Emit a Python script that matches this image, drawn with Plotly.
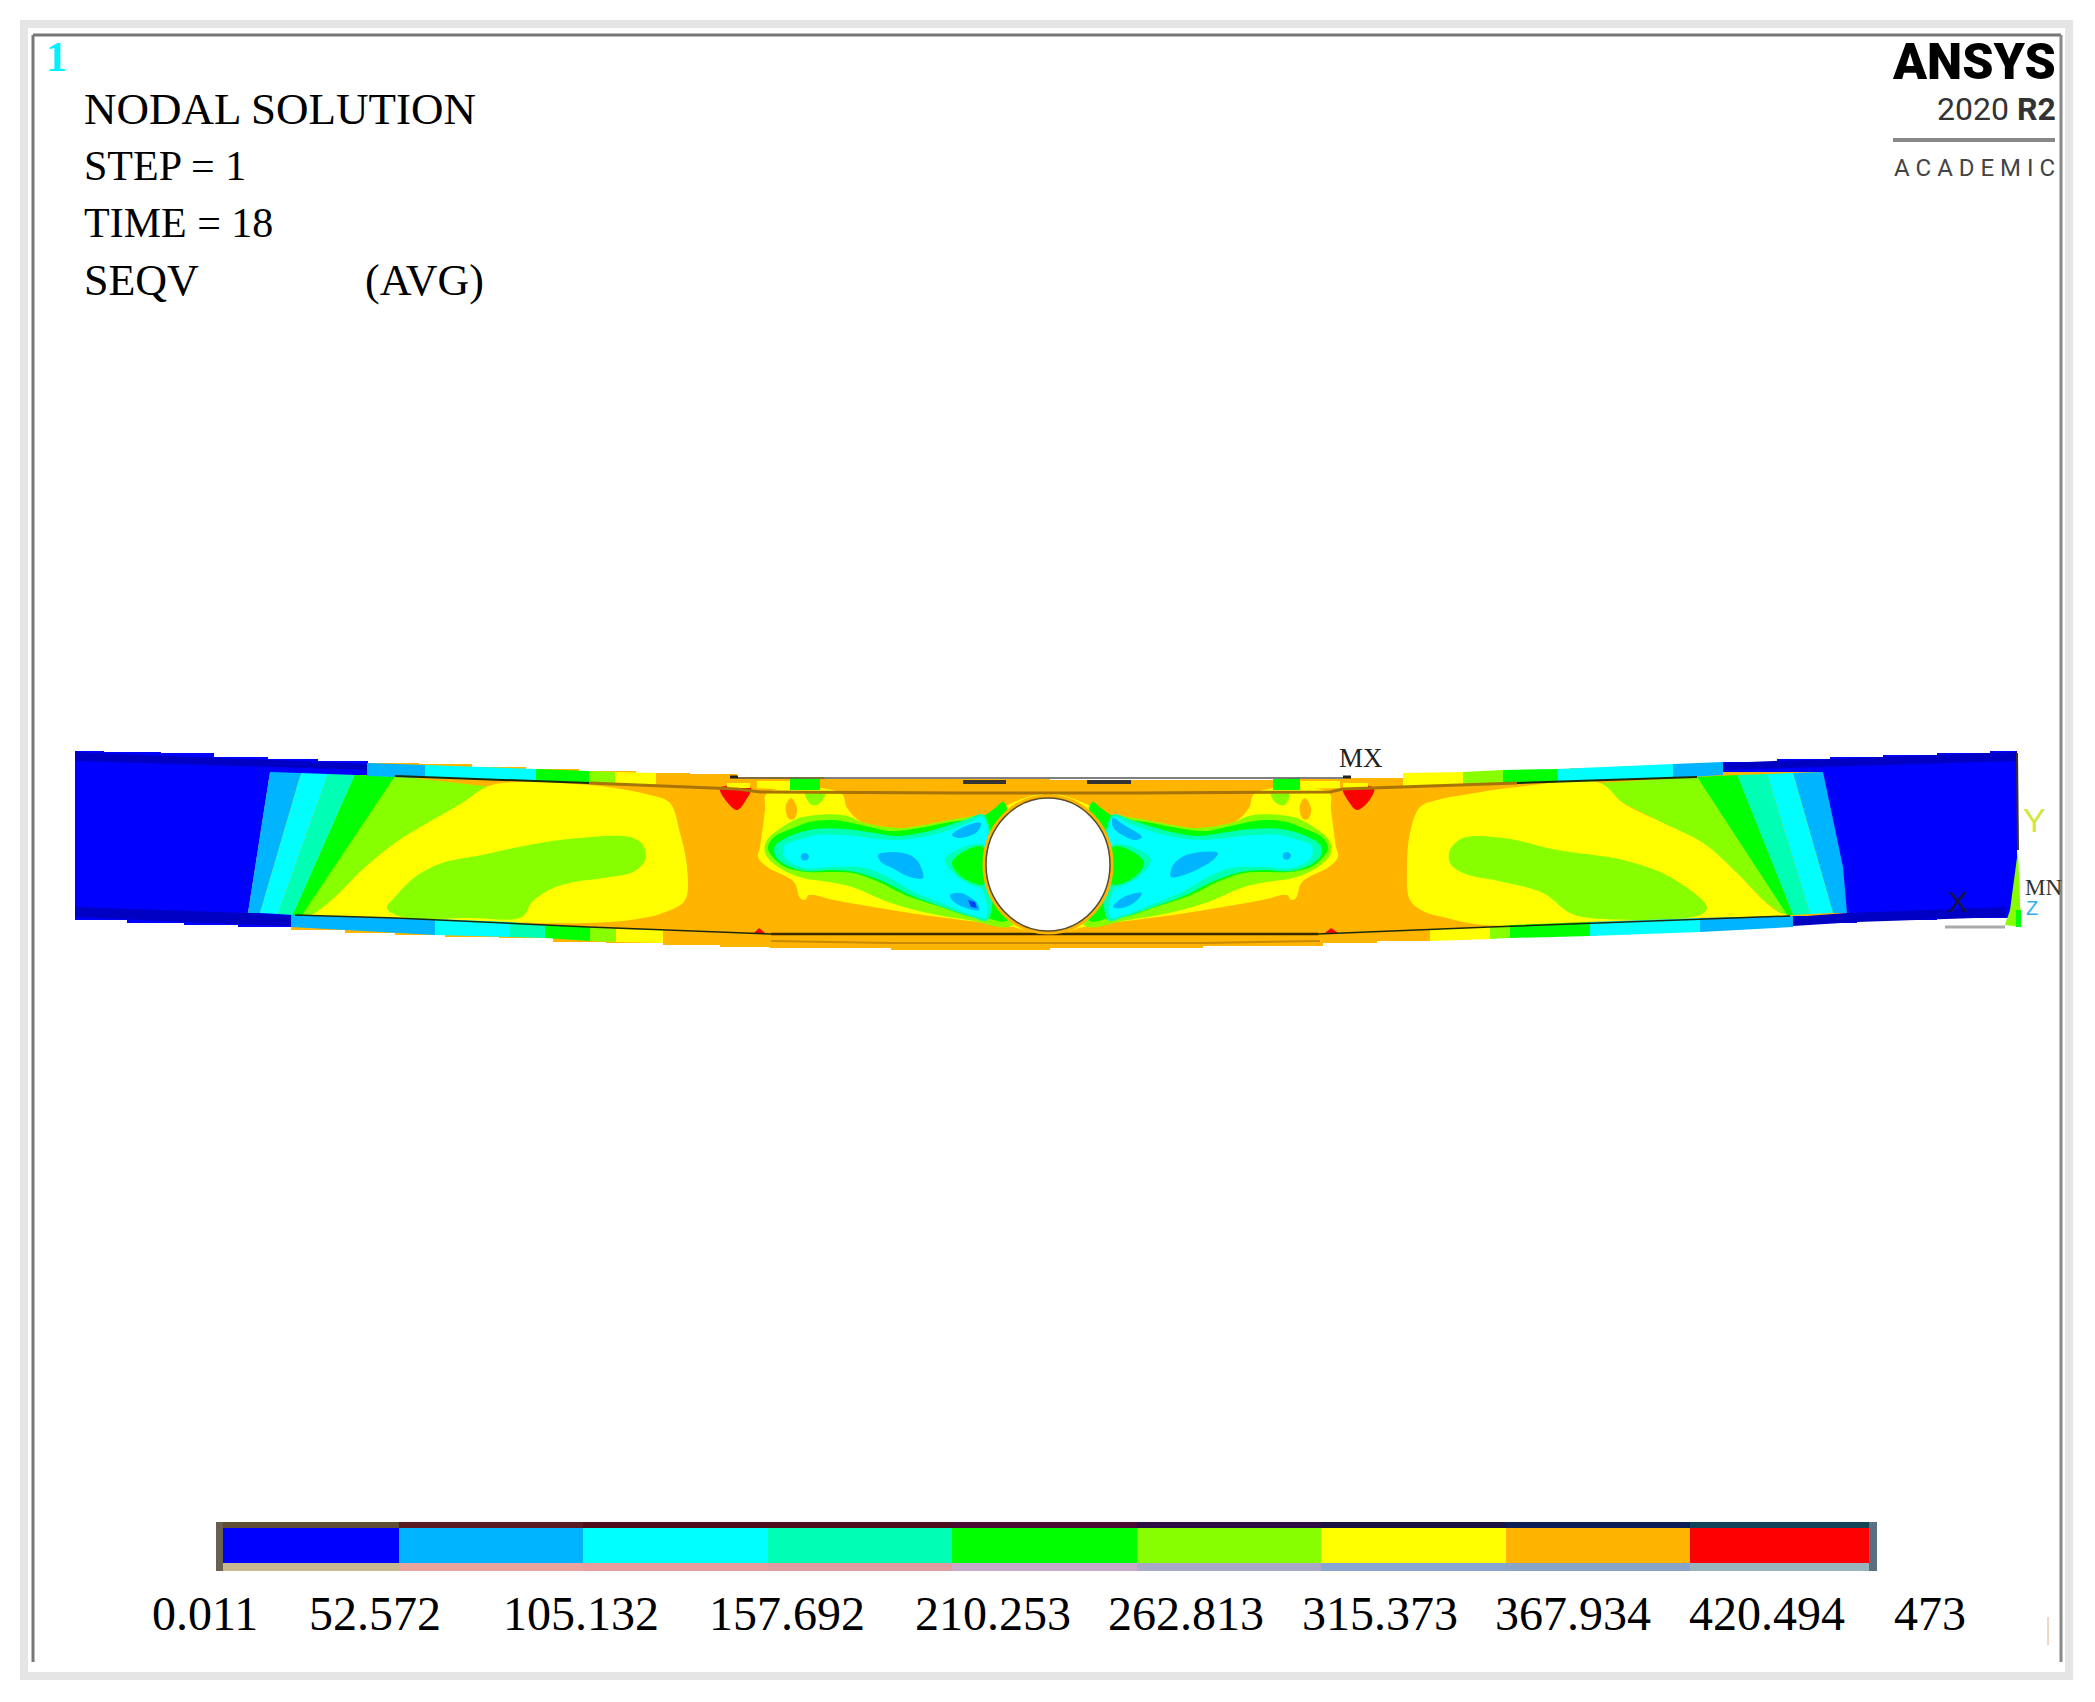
import plotly.graph_objects as go

# everything on the beam in image pixels
W = 2095
H = 1702

BLUE = "#0000ff"
LBLUE = "#00b4ff"
CYAN = "#00ffff"
TEAL = "#00ffb4"
GREEN = "#00ff00"
LIME = "#88ff00"
YELLOW = "#ffff00"
ORANGE = "#ffb400"
RED = "#ff0000"
NAVY = "#0000c4"

levels = [0.011, 52.572, 105.132, 157.692, 210.253, 262.813, 315.373, 367.934, 420.494, 473]
level_labels = ["0.011", "52.572", "105.132", "157.692", "210.253", "262.813", "315.373", "367.934", "420.494", "473"]
level_label_x = [205, 375, 581, 787, 993, 1186, 1380, 1573, 1767, 1930]
level_colors = [BLUE, LBLUE, CYAN, TEAL, GREEN, LIME, YELLOW, ORANGE, RED]
strip_top_colors = ["#5f4f34", "#5a1c22", "#500c1c", "#500c1c", "#4a0c34", "#2c0c44", "#1a1044", "#0c1c54", "#104456"]
strip_bot_colors = ["#c8b890", "#e8a49c", "#e89c9c", "#e09ca0", "#c8a8c8", "#a8a8c8", "#88a4d0", "#88a4c8", "#98b4bc"]

info_lines = ["NODAL SOLUTION", "STEP = 1", "TIME = 18", "SEQV"]
info_sizes = [45, 42, 42, 44]
info_baseline = [123, 180, 237, 294]

beam_top = [(75, 751), (104, 752), (161, 753), (214, 757), (268, 759), (318, 761), (368, 763), (419, 764), (472, 767),
	(526, 769), (579, 771), (636, 773), (690, 774), (737, 777), (824, 779), (1050, 780), (1273, 779), (1343, 778),
	(1403, 773), (1460, 772), (1517, 770), (1570, 768), (1623, 766), (1673, 764), (1723, 762), (1777, 759),
	(1830, 757), (1883, 755), (1937, 753), (1990, 751), (2017, 751)]
beam_bot = [(2017, 918), (1937, 920), (1857, 923), (1793, 927), (1750, 929), (1700, 932), (1650, 933),
	(1597, 936), (1543, 937), (1490, 939), (1433, 941), (1377, 943), (1323, 946), (1203, 948), (1050, 950),
	(891, 948), (770, 947), (720, 945), (663, 943), (606, 942), (553, 938), (499, 937), (445, 935), (395, 933),
	(345, 930), (291, 927), (238, 925), (184, 923), (127, 920), (75, 918)]

# web colour bands, left end
l_blue = [(75, 751), (104, 752), (161, 753), (214, 757), (268, 759), (318, 761), (368, 763), (368, 775), (270, 772), (248, 913), (295, 915),
	(291, 927), (238, 925), (184, 923), (127, 920), (75, 918)]
l_fill = [(270, 772), (248, 913), (130, 913), (120, 772)]
l_lblue = [(270, 772), (301, 773), (260, 913), (248, 913)]
l_cyan = [(301, 773), (328, 774), (278, 914), (260, 913)]
l_teal = [(328, 774), (355, 775), (293, 915), (278, 914)]
l_green = [(355, 775), (395, 776), (398, 785), (308, 915), (293, 915)]
l_lime = [(395, 776), (492, 787), (315, 913), (308, 916), (302, 915)]
l_yellow = [(492, 785), (589, 785), (650, 795), (670, 803), (680, 833), (687, 867), (685, 900), (663, 913), (630, 920),
	(589, 923), (502, 922), (395, 918), (308, 916), (315, 913), (335, 897), (362, 870), (395, 843), (429, 822), (462, 803)]
l_island = [(387, 908), (395, 897), (415, 877), (442, 863), (482, 855), (529, 845), (569, 839), (630, 837), (643, 845), (645, 860),
	(633, 872), (603, 878), (569, 883), (549, 890), (532, 902), (522, 917), (469, 918), (402, 917)]

# web colour bands, right end
r_blue = [(2017, 751), (1990, 751), (1937, 753), (1883, 755), (1830, 757), (1777, 759), (1723, 762), (1723, 775), (1823, 772), (1843, 867), (1847, 913),
	(1793, 916), (1793, 927), (1857, 923), (1937, 920), (2017, 918)]
r_fill = [(1823, 772), (1847, 913), (1950, 913), (1950, 772)]
r_lblue = [(1793, 773), (1823, 772), (1843, 867), (1847, 913), (1833, 913)]
r_cyan = [(1767, 774), (1793, 773), (1833, 913), (1810, 914)]
r_teal = [(1737, 775), (1767, 774), (1810, 914), (1793, 915)]
r_green = [(1697, 777), (1737, 775), (1793, 915), (1787, 915)]
r_lime = [(1600, 783), (1697, 777), (1787, 915), (1780, 913), (1763, 900), (1737, 873), (1703, 843), (1663, 823), (1623, 803)]
r_yellow = [(1517, 787), (1463, 795), (1437, 800), (1420, 807), (1410, 833), (1407, 867), (1410, 900), (1425, 912), (1443, 917), (1483, 925),
	(1583, 922), (1697, 918), (1787, 915), (1780, 913), (1763, 900), (1737, 873), (1703, 843), (1663, 823), (1623, 803), (1600, 783)]
r_island = [(1450, 850), (1463, 838), (1503, 838), (1557, 850), (1623, 860), (1670, 877), (1707, 907), (1700, 915), (1590, 918), (1570, 913),
	(1543, 893), (1503, 882), (1463, 873), (1450, 863)]

# contours round the hole, left side
cl_yellow = [(767, 793), (765, 810), (760, 847), (758, 857), (767, 867), (794, 882), (800, 898), (805, 900), (809, 895), (834, 900), (879, 908),
	(923, 915), (986, 923), (1012, 927), (1039, 930), (1044, 865), (1044, 795), (1035, 795), (1012, 803), (986, 815), (950, 822), (910, 828),
	(888, 830), (861, 822), (847, 808), (841, 793)]
cl_oval = [(791, 798), (796, 805), (797, 812), (794, 819), (789, 819), (786, 812), (786, 805)]
cl_patch = [(805, 793), (825, 793), (820, 803), (812, 805)]
cl_lime = [(803, 817), (843, 815), (865, 823), (901, 828), (923, 825), (968, 817), (986, 816), (1000, 865), (1012, 925), (968, 920), (923, 912),
	(888, 902), (852, 887), (829, 882), (803, 878), (778, 867), (765, 853), (767, 840), (789, 823)]
cl_green = [(809, 822), (834, 820), (852, 823), (874, 828), (892, 831), (919, 828), (950, 822), (981, 817), (995, 808), (1004, 802), (1008, 920),
	(986, 918), (968, 916), (941, 907), (905, 895), (879, 882), (852, 873), (829, 872), (807, 872), (785, 867), (771, 855), (768, 847), (774, 837), (796, 827)]
cl_teal = [(775, 846), (790, 836), (815, 829), (845, 829), (875, 833), (897, 836), (925, 832), (965, 820), (984, 815), (988, 920), (972, 917),
	(945, 908), (910, 895), (882, 881), (855, 872), (832, 870), (805, 871), (784, 864), (775, 855)]
cl_cyan = [(785, 845), (798, 840), (816, 835), (843, 835), (870, 838), (896, 840), (932, 835), (968, 823), (983, 817), (986, 847), (963, 850),
	(952, 863), (957, 877), (981, 888), (986, 917), (972, 915), (946, 905), (914, 892), (888, 877), (865, 868), (834, 867), (805, 868), (787, 860), (783, 852)]
cl_halo = [(945, 860), (957, 850), (983, 845), (985, 887), (959, 878)]
cl_bulge = [(952, 863), (963, 852), (983, 847), (984, 884), (963, 878)]
cl_blob1 = [(878, 855), (892, 852), (910, 855), (919, 863), (923, 878), (910, 877), (892, 868), (881, 862)]
cl_blob2 = [(952, 835), (968, 825), (981, 823), (977, 832), (959, 838)]
cl_blob3 = [(950, 895), (961, 893), (977, 903), (979, 910), (963, 907), (952, 900)]
cl_dot = [(801, 855), (805, 853), (809, 856), (807, 860), (802, 860)]
cl_core = [(968, 900), (975, 902), (977, 908), (971, 907)]
cl_wedge = [(720, 788), (751, 788), (746, 800), (737, 810), (727, 802)]

# contours round the hole, right side
cr_yellow = [(1329, 793), (1331, 810), (1336, 847), (1338, 857), (1329, 867), (1302, 882), (1296, 898), (1291, 900), (1287, 895), (1262, 900), (1217, 908),
	(1173, 915), (1110, 923), (1084, 927), (1057, 930), (1052, 865), (1052, 795), (1061, 795), (1084, 803), (1110, 815), (1146, 822), (1186, 828),
	(1208, 830), (1235, 822), (1249, 808), (1255, 793)]
cr_oval = [(1305, 798), (1310, 805), (1311, 812), (1308, 819), (1303, 819), (1300, 812), (1300, 805)]
cr_patch = [(1271, 793), (1289, 793), (1285, 805), (1276, 803)]
cr_lime = [(1293, 817), (1253, 815), (1231, 823), (1195, 828), (1173, 825), (1128, 817), (1110, 816), (1096, 865), (1084, 925), (1128, 920), (1173, 912),
	(1208, 902), (1244, 887), (1267, 882), (1293, 878), (1318, 867), (1331, 853), (1329, 840), (1307, 823)]
cr_green = [(1287, 822), (1262, 820), (1244, 823), (1222, 828), (1204, 831), (1177, 828), (1146, 822), (1115, 817), (1101, 808), (1092, 802), (1088, 920),
	(1110, 918), (1128, 916), (1155, 907), (1191, 895), (1217, 882), (1244, 873), (1267, 872), (1289, 872), (1311, 867), (1325, 855), (1328, 847), (1322, 837), (1300, 827)]
cr_teal = [(1321, 846), (1306, 836), (1281, 829), (1251, 829), (1221, 833), (1199, 836), (1171, 832), (1131, 820), (1112, 815), (1108, 920), (1124, 917),
	(1151, 908), (1186, 895), (1214, 881), (1241, 872), (1264, 870), (1291, 871), (1312, 864), (1321, 855)]
cr_cyan = [(1311, 845), (1298, 840), (1280, 835), (1253, 835), (1226, 838), (1200, 840), (1164, 835), (1128, 823), (1113, 817), (1110, 847), (1133, 850),
	(1144, 863), (1139, 877), (1115, 888), (1110, 917), (1124, 915), (1150, 905), (1182, 892), (1208, 877), (1231, 868), (1262, 867), (1291, 868), (1309, 860), (1313, 852)]
cr_halo = [(1151, 860), (1139, 850), (1113, 845), (1111, 887), (1137, 878)]
cr_bulge = [(1144, 863), (1133, 852), (1113, 847), (1112, 884), (1133, 878)]
cr_blob1 = [(1218, 853), (1200, 852), (1182, 857), (1172, 867), (1171, 877), (1184, 875), (1202, 867), (1213, 860)]
cr_blob2 = [(1113, 818), (1124, 825), (1142, 837), (1135, 840), (1122, 835), (1113, 827)]
cr_blob3 = [(1113, 907), (1124, 897), (1142, 893), (1135, 902), (1122, 908)]
cr_dot = [(1283, 854), (1287, 852), (1291, 855), (1289, 859), (1284, 859)]
cr_wedge = [(1343, 788), (1374, 788), (1368, 802), (1357, 810), (1349, 802)]

# flange segments
flange_parts = [
	([(367, 763), (425, 765), (425, 778), (367, 776)], LBLUE),
	([(425, 765), (536, 769), (536, 781), (425, 778)], CYAN),
	([(536, 769), (589, 771), (592, 783), (536, 781)], GREEN),
	([(589, 771), (615, 772), (615, 784), (589, 783)], LIME),
	([(615, 772), (656, 773), (656, 785), (615, 784)], YELLOW),
	([(291, 915), (435, 919), (435, 935), (291, 927)], LBLUE),
	([(435, 919), (510, 922), (510, 937), (435, 935)], CYAN),
	([(510, 922), (545, 925), (545, 938), (510, 937)], TEAL),
	([(545, 925), (590, 927), (590, 941), (545, 938)], GREEN),
	([(590, 927), (616, 929), (616, 942), (590, 941)], LIME),
	([(616, 929), (663, 930), (663, 943), (616, 942)], YELLOW),
	([(1673, 764), (1723, 762), (1723, 775), (1673, 778)], LBLUE),
	([(1557, 769), (1673, 764), (1673, 778), (1557, 782)], CYAN),
	([(1503, 770), (1557, 769), (1557, 782), (1503, 784)], GREEN),
	([(1463, 772), (1503, 770), (1503, 784), (1463, 786)], LIME),
	([(1403, 773), (1463, 772), (1463, 786), (1403, 787)], YELLOW),
	([(1700, 918), (1793, 916), (1793, 927), (1700, 932)], LBLUE),
	([(1590, 922), (1700, 918), (1700, 932), (1590, 936)], CYAN),
	([(1510, 925), (1590, 922), (1590, 936), (1510, 938)], GREEN),
	([(1490, 927), (1510, 925), (1510, 938), (1490, 939)], LIME),
	([(1430, 929), (1490, 927), (1490, 939), (1430, 941)], YELLOW),
	([(790, 778), (820, 779), (820, 790), (790, 790)], GREEN),
	([(757, 781), (790, 781), (790, 790), (757, 788)], YELLOW),
	([(727, 783), (750, 783), (750, 788), (727, 788)], YELLOW),
	([(1273, 779), (1300, 778), (1300, 790), (1273, 790)], GREEN),
	([(1300, 781), (1340, 781), (1340, 788), (1300, 789)], YELLOW),
	([(1343, 783), (1368, 783), (1368, 788), (1343, 788)], YELLOW),
	([(754, 933), (759, 928), (765, 933)], RED),
	([(1325, 933), (1331, 928), (1338, 933)], RED),
	([(2018, 850), (2021, 927), (2005, 925), (2010, 910)], LIME),
	([(2016, 910), (2021, 910), (2021, 927), (2016, 927)], GREEN),
]

dark_bands = [
	[(75, 752), (368, 764), (368, 770), (75, 761)],
	[(75, 907), (248, 913), (291, 916), (291, 926), (184, 922), (75, 917)],
	[(2017, 752), (1723, 763), (1723, 770), (2017, 761)],
	[(2005, 907), (1847, 913), (1793, 917), (1793, 926), (1857, 922), (2005, 917)],
]

edge_lines = [
	([(395, 776), (589, 783)], "#1a2a10", 2),
	([(1697, 777), (1517, 783)], "#1a2a10", 2),
	([(589, 783), (737, 789), (760, 792), (960, 793), (1136, 793), (1330, 792), (1343, 789), (1517, 783)], "#a87408", 3),
	([(737, 778), (1343, 778)], "#555555", 1.5),
	([(963, 782), (1006, 782)], "#333333", 4),
	([(1087, 782), (1131, 782)], "#333333", 4),
	([(730, 777), (738, 777)], "#222222", 3),
	([(1343, 777), (1351, 777)], "#222222", 3),
	([(295, 915), (395, 918), (589, 927), (771, 934)], "#1a2a10", 1.5),
	([(771, 934), (1318, 934)], "#3a2a00", 2.5),
	([(1318, 934), (1490, 927), (1790, 916)], "#1a2a10", 1.5),
	([(771, 941), (890, 943), (1204, 943), (1320, 941)], "#c88a00", 2),
	([(2017, 753), (2018, 850)], "#40301c", 2),
	([(1945, 927), (2005, 927)], "#aaaaaa", 3),
	([(2048, 1617), (2048, 1645)], "#e0b090", 1),
]

contour_polys = [
	(l_lblue, LBLUE, False), (l_cyan, CYAN, False), (l_teal, TEAL, False), (l_green, GREEN, False), (l_lime, LIME, False),
	(l_yellow, YELLOW, True), (l_island, LIME, True),
	(r_lblue, LBLUE, False), (r_cyan, CYAN, False), (r_teal, TEAL, False), (r_green, GREEN, False), (r_lime, LIME, False),
	(r_yellow, YELLOW, True), (r_island, LIME, True),
	(cl_yellow, YELLOW, True), (cl_oval, ORANGE, True), (cl_patch, LIME, True), (cl_lime, LIME, True), (cl_green, GREEN, True), (cl_teal, TEAL, True),
	(cl_cyan, CYAN, True), (cl_halo, TEAL, True), (cl_bulge, GREEN, True), (cl_blob1, LBLUE, True), (cl_blob2, LBLUE, True),
	(cl_blob3, LBLUE, True), (cl_dot, LBLUE, True), (cl_core, "#0040f0", False), (cl_wedge, RED, True),
	(cr_yellow, YELLOW, True), (cr_oval, ORANGE, True), (cr_patch, LIME, True), (cr_lime, LIME, True), (cr_green, GREEN, True), (cr_teal, TEAL, True),
	(cr_cyan, CYAN, True), (cr_halo, TEAL, True), (cr_bulge, GREEN, True), (cr_blob1, LBLUE, True), (cr_blob2, LBLUE, True),
	(cr_blob3, LBLUE, True), (cr_dot, LBLUE, True), (cr_wedge, RED, True),
]


def poly(pts, color, smooth=False, shape=None):
	if shape is None:
		shape = "spline" if smooth else "linear"
	return go.Scatter(x=[p[0] for p in pts] + [pts[0][0]], y=[p[1] for p in pts] + [pts[0][1]], mode="lines",
		fill="toself", fillcolor=color, hoverinfo="skip", showlegend=False,
		line=dict(width=0, color=color, shape=shape))


fig = go.Figure()

fig.add_trace(poly(beam_top + beam_bot, ORANGE, shape="hv"))
fig.add_trace(poly(l_blue, BLUE, shape="hv"))
fig.add_trace(poly(r_blue, BLUE, shape="vh"))
fig.add_trace(poly(l_fill, BLUE))
fig.add_trace(poly(r_fill, BLUE))
for pts in dark_bands:
	fig.add_trace(poly(pts, NAVY))
for pts, color, smooth in contour_polys:
	fig.add_trace(poly(pts, color, smooth))
for pts, color in flange_parts:
	fig.add_trace(poly(pts, color))
for pts, color, lw in edge_lines:
	fig.add_trace(go.Scatter(x=[p[0] for p in pts], y=[p[1] for p in pts], mode="lines", hoverinfo="skip",
		showlegend=False, line=dict(color=color, width=lw)))

# colour key, value scale on its own x axis
base = levels[:-1]
step = [b - a for a, b in zip(levels[:-1], levels[1:])]
for yc, bar_h, cols in [(1525, 7, strip_top_colors), (1545.5, 35, level_colors), (1567, 8, strip_bot_colors)]:
	fig.add_trace(go.Bar(x=step, y=[yc] * 9, base=base, width=bar_h, orientation="h", xaxis="x2", yaxis="y",
		marker=dict(color=cols, line=dict(width=0)), hoverinfo="skip", showlegend=False))

shapes = [
	# picture frame
	dict(type="rect", x0=24, y0=24, x1=2069, y1=1676, line=dict(color="#e5e5e5", width=8), fillcolor="white", layer="below"),
	dict(type="line", x0=33, y0=35, x1=2061, y1=35, line=dict(color="#777777", width=3)),
	dict(type="line", x0=33, y0=35, x1=33, y1=1662, line=dict(color="#777777", width=3)),
	dict(type="line", x0=2061, y0=35, x1=2061, y1=1662, line=dict(color="#888888", width=3)),
	# hole
	dict(type="circle", x0=984, y0=796, x1=1112, y1=933, line=dict(color=ORANGE, width=3), fillcolor="rgba(0,0,0,0)"),
	dict(type="circle", x0=986, y0=798, x1=1110, y1=931, line=dict(color="#5a4a30", width=1.5), fillcolor="white"),
	# key ends
	dict(type="rect", x0=216, y0=1522, x1=223, y1=1571, line=dict(width=0), fillcolor="#6a6050"),
	dict(type="rect", x0=1869, y0=1522, x1=1877, y1=1571, line=dict(width=0), fillcolor="#5a7080"),
	# logo rule
	dict(type="line", x0=1893, y0=140, x1=2055, y1=140, line=dict(color="#888888", width=4)),
]


def label(x, y, text, size, color="black", family="Liberation Serif", anchor="left", weight=None):
	return dict(x=x, y=y, text=text, showarrow=False, xanchor=anchor, yanchor="middle", xref="x", yref="y",
		font=dict(family=family, size=size, color=color, weight=weight), borderpad=0, borderwidth=0)


annotations = []
for line, base_y, fs in zip(info_lines, info_baseline, info_sizes):
	annotations.append(label(84, base_y - 14, line, fs))
annotations.append(label(365, info_baseline[3] - 14, "(AVG)", 44))
for txt, lx in zip(level_labels, level_label_x):
	annotations.append(label(lx, 1613, txt, 48, anchor="center"))
annotations.append(label(56, 57, "<b>1</b>", 42, color="#00f0ff", anchor="center"))
annotations.append(label(2056, 62, "ANSYS", 50, family="Roboto", anchor="right", weight=900))
annotations.append(label(2056, 109, "2020 <b>R2</b>", 32, color="#333333", family="Roboto", anchor="right"))
annotations.append(label(1974, 168, "A C A D E M I C", 24, color="#444444", family="Roboto", anchor="center"))
annotations.append(label(1361, 758, "MX", 27, color="#222222", anchor="center"))
annotations.append(label(2034, 820, "Y", 34, color="#cfe840", family="Liberation Sans", anchor="center"))
annotations.append(label(1958, 901, "X", 30, color="#14143c", family="Liberation Sans", anchor="center"))
annotations.append(label(2043, 887, "MN", 23, color="#333333", anchor="center"))
annotations.append(label(2032, 908, "Z", 20, color="#30b0f0", family="Liberation Sans", anchor="center"))

fig.update_layout(
	width=W, height=H, margin=dict(l=0, r=0, t=0, b=0), paper_bgcolor="white", plot_bgcolor="rgba(0,0,0,0)",
	barmode="overlay", bargap=0, showlegend=False, shapes=shapes, annotations=annotations,
	xaxis=dict(range=[0, W], visible=False, domain=[0, 1], fixedrange=True),
	yaxis=dict(range=[H, 0], visible=False, domain=[0, 1], fixedrange=True),
	xaxis2=dict(range=[2.415, 471.5], domain=[223 / W, 1869 / W], visible=False, anchor="y", fixedrange=True),
)

fig.write_html("out.html", config=dict(displayModeBar=False),
	post_script="document.body.style.margin='0';document.body.style.overflow='hidden';")
